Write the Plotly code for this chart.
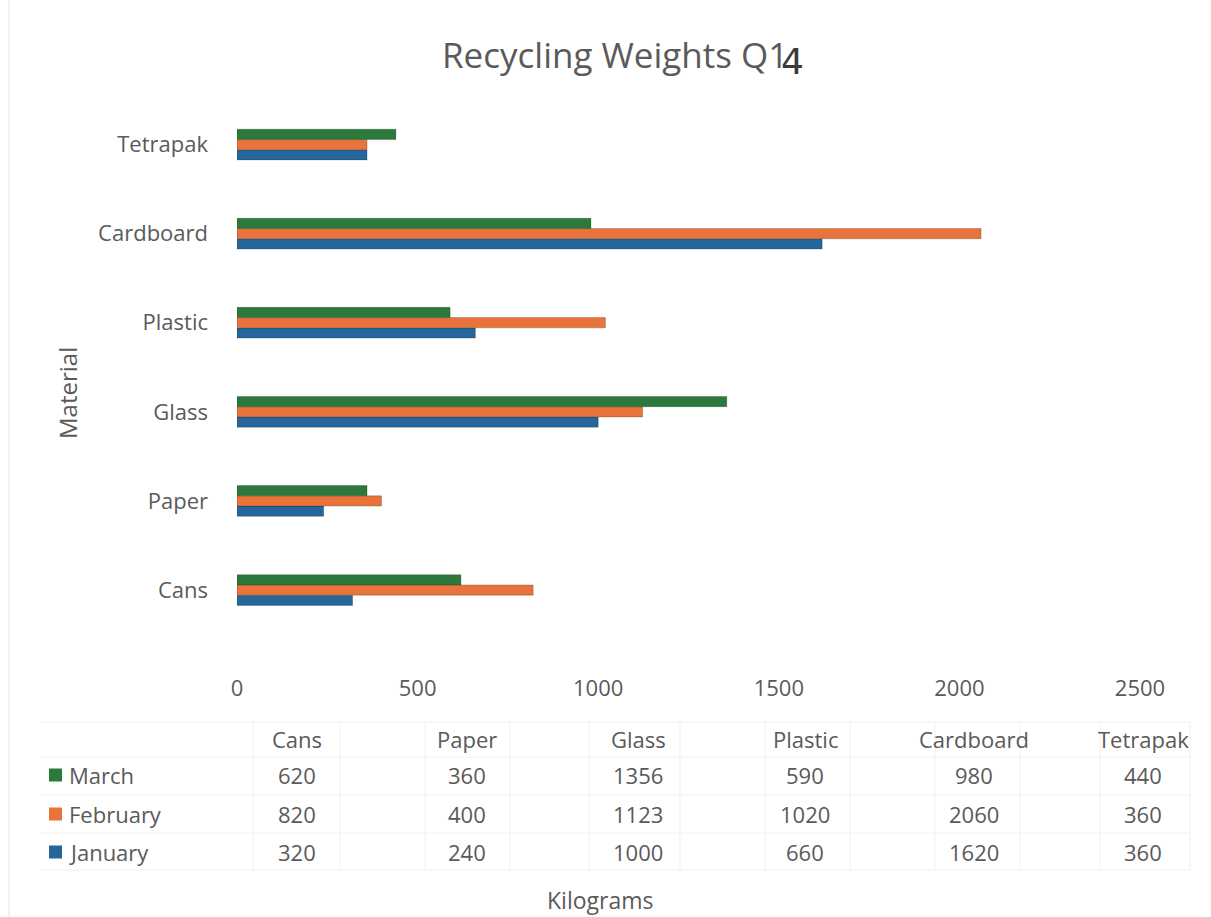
import plotly.graph_objects as go

materials = ["Cans", "Paper", "Glass", "Plastic", "Cardboard", "Tetrapak"]
months = ["January", "February", "March"]
january = [320, 240, 1000, 660, 1620, 360]
february = [820, 400, 1123, 1020, 2060, 360]
march = [620, 360, 1356, 590, 980, 440]
x_ticks = [0, 500, 1000, 1500, 2000, 2500]
series = {"January": january, "February": february, "March": march}
colors = {"January": "#25679a", "February": "#e8743b", "March": "#2b7a3b"}

W, H = 1211, 917
L, R, T, B = 237, 71, 100, 245
PW, PH = W - L - R, H - T - B

def px(x):
    return (x - L) / PW

def py(y):
    return 1 - (y - T) / PH

FONT = "'Open Sans', 'Noto Sans', sans-serif"
GREY = "#5a5a5a"
FS = 22

fig = go.Figure()
ypos = list(range(len(materials)))
for m in months:
    fig.add_trace(go.Bar(
        x=series[m], y=ypos, orientation="h", name=m,
        marker=dict(color=colors[m], line=dict(width=0.6, color="rgba(0,0,0,0.35)")),
        showlegend=False,
    ))

fig.update_layout(
    width=W, height=H,
    margin=dict(l=L, r=R, t=T, b=B),
    paper_bgcolor="white", plot_bgcolor="white",
    barmode="group", bargap=0.655, bargroupgap=0,
    font=dict(family=FONT, color=GREY),
    xaxis=dict(range=[0, 2500], tickvals=x_ticks, ticktext=[str(v) for v in x_ticks],
               showgrid=False, zeroline=False, showline=False,
               tickfont=dict(size=FS, color=GREY), ticks="", ticklabelstandoff=1),
    yaxis=dict(range=[-0.92, 5.5], tickvals=ypos, ticktext=materials,
               showgrid=False, zeroline=False, showline=False,
               tickfont=dict(size=FS, color=GREY), ticks="", ticklabelstandoff=28),
)

ann = []

def text(x, y, s, size=FS, xanchor="center", color=GREY, family=FONT, angle=0):
    ann.append(dict(x=px(x), y=py(y), xref="paper", yref="paper", text=s,
                    showarrow=False, xanchor=xanchor, yanchor="middle", textangle=angle,
                    font=dict(size=size, color=color, family=family)))

# title (with the handwritten "4" correction over the "1")
text(440, 55, "Recycling Weights Q1", size=35, xanchor="left")
text(792, 62, "4", size=36, color="#3a3a3a", family="DejaVu Sans")
# axis titles
text(68, 393, "Material", size=24, angle=-90)
text(600, 900, "Kilograms", size=23)

# data table
col_x = [297, 467, 638, 805, 974, 1143]
header_y = 739
row_y = {"March": 775, "February": 814, "January": 852}
for cx, mat in zip(col_x, materials):
    text(cx, header_y, mat)
for m in ["March", "February", "January"]:
    for cx, v in zip(col_x, series[m]):
        text(cx, row_y[m], str(v))
    text(67, row_y[m], m, xanchor="left")

shapes = []
for m in months:
    yy = row_y[m]
    shapes.append(dict(type="rect", xref="paper", yref="paper",
                       x0=px(49), x1=px(62), y0=py(yy - 6.5), y1=py(yy + 6.5),
                       fillcolor=colors[m], line=dict(width=0)))
# faint table grid
grid_c = "rgba(200,200,200,0.25)"
for gx in [253, 340, 425, 510, 589, 680, 765, 850, 935, 1020, 1100, 1190]:
    shapes.append(dict(type="line", xref="paper", yref="paper", x0=px(gx), x1=px(gx),
                       y0=py(722), y1=py(870), line=dict(color=grid_c, width=1)))
for gy in [722, 757, 795, 833, 870]:
    shapes.append(dict(type="line", xref="paper", yref="paper", x0=px(40), x1=px(1190),
                       y0=py(gy), y1=py(gy), line=dict(color=grid_c, width=1)))
# faint scan edge
shapes.append(dict(type="line", xref="paper", yref="paper", x0=px(9), x1=px(9),
                   y0=py(0), y1=py(917), line=dict(color="rgba(210,210,210,0.6)", width=1)))

fig.update_layout(annotations=ann, shapes=shapes)
fig.write_html("out.html")
